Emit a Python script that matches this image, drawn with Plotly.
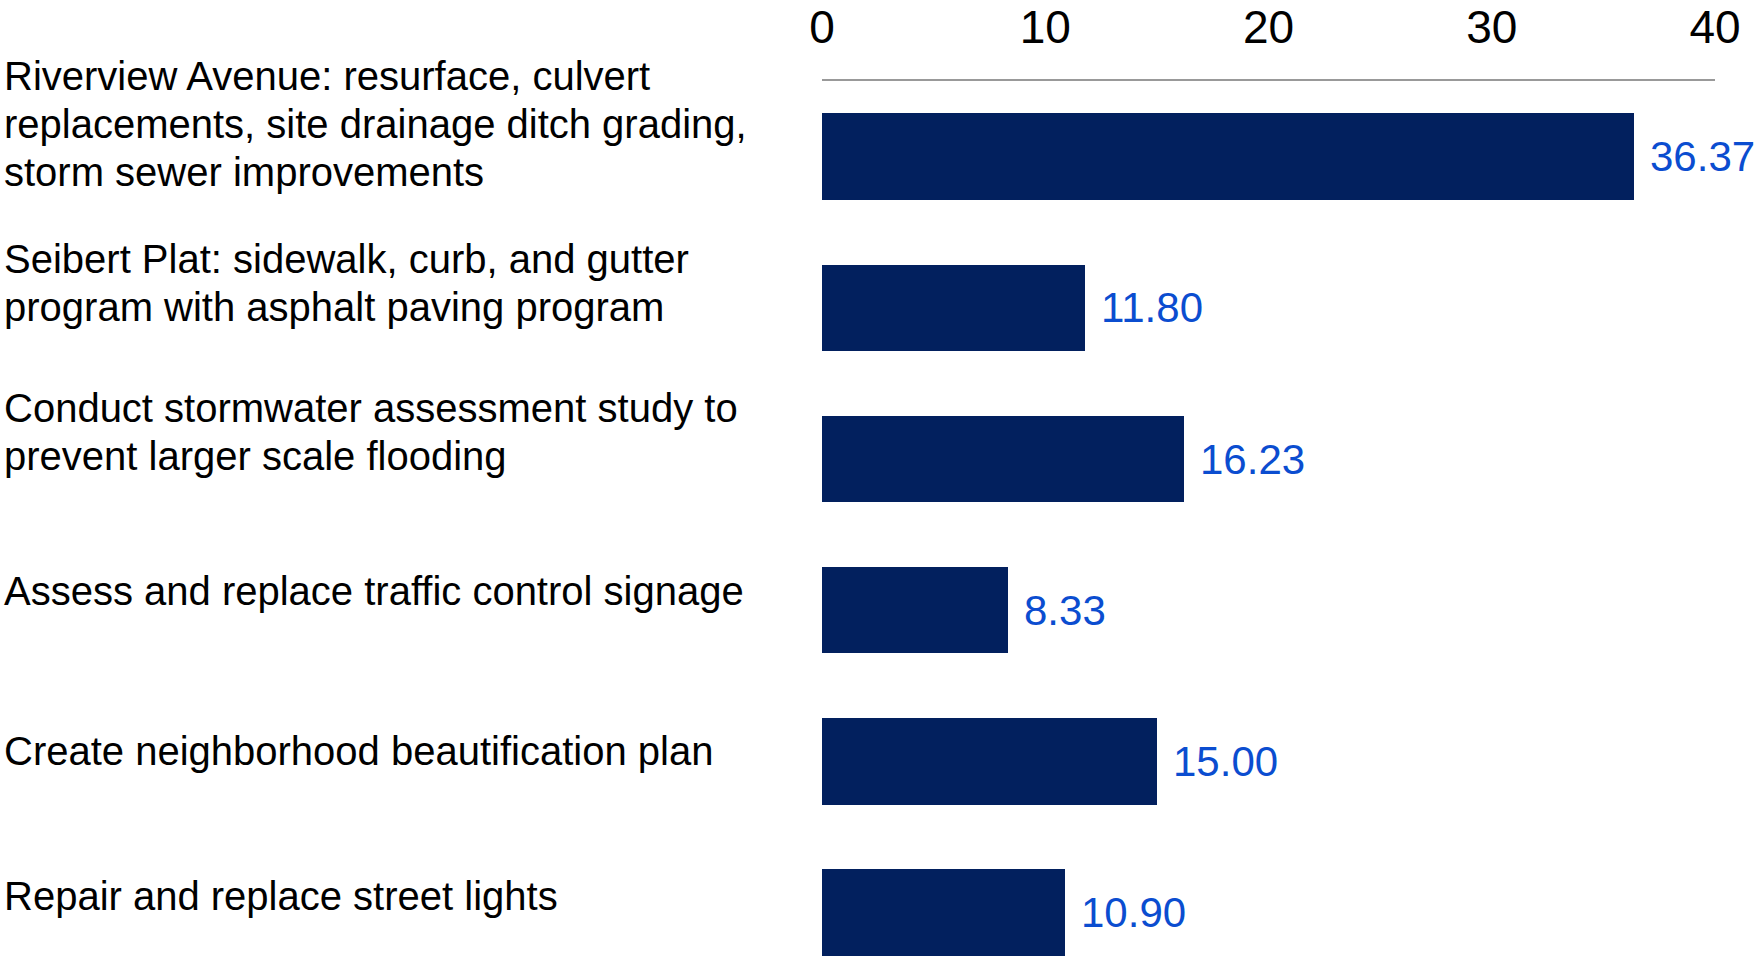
import plotly.graph_objects as go

categories = [
    "Riverview Avenue: resurface, culvert<br>replacements, site drainage ditch grading,<br>storm sewer improvements",
    "Seibert Plat: sidewalk, curb, and gutter<br>program with asphalt paving program",
    "Conduct stormwater assessment study to<br>prevent larger scale flooding",
    "Assess and replace traffic control signage",
    "Create neighborhood beautification plan",
    "Repair and replace street lights",
]
values = [36.37, 11.80, 16.23, 8.33, 15.00, 10.90]
tick_values = [0, 10, 20, 30, 40]
tick_labels = ["0", "10", "20", "30", "40"]

W, H = 1761, 958
LEFT = 822
RIGHT = W - 1715
TOP = 81
BOTTOM = 0
FONT = "Liberation Sans, Arial, sans-serif"
BAR_COLOR = "#02205E"
LABEL_COLOR = "#0B4DD0"

# vertical offset (px, up positive) of each text line from its bar centre
line_shift = [[81, 33, -15], [49, 1], [51, 3], [19], [10], [17]]

idx = list(range(len(categories)))

fig = go.Figure()
fig.add_trace(go.Bar(
    x=values, y=idx, orientation="h",
    marker=dict(color=BAR_COLOR, line=dict(width=0)),
    width=0.571,
    hoverinfo="skip",
))

annotations = []
plot_w = W - LEFT - RIGHT
for i, (c, v) in enumerate(zip(categories, values)):
    annotations.append(dict(
        x=v, y=i, xref="x", yref="y", text=f"{v:.2f}",
        showarrow=False, xanchor="left", yanchor="middle", xshift=14,
        font=dict(family=FONT, size=42, color=LABEL_COLOR),
    ))
    for line, sh in zip(c.split("<br>"), line_shift[i]):
        annotations.append(dict(
            x=(2 - LEFT) / plot_w, y=i, xref="paper", yref="y", text=line,
            showarrow=False, xanchor="left", yanchor="middle", align="left",
            yshift=sh,
            font=dict(family=FONT, size=40, color="#000000"),
        ))

fig.update_layout(
    width=W, height=H,
    margin=dict(l=LEFT, r=RIGHT, t=TOP, b=BOTTOM, pad=0, autoexpand=False),
    paper_bgcolor="white", plot_bgcolor="white",
    showlegend=False,
    bargap=0,
    annotations=annotations,
    xaxis=dict(
        side="top", range=[0, 40], tickvals=tick_values, ticktext=tick_labels,
        showgrid=False, zeroline=False, automargin=False,
        showline=True, linecolor="#999999", linewidth=2,
        ticks="", ticklabelstandoff=18,
        tickfont=dict(family=FONT, size=46, color="#000000"),
        fixedrange=True,
    ),
    yaxis=dict(
        range=[5.3, -0.5], showticklabels=False, showgrid=False, automargin=False,
        zeroline=False, showline=False, fixedrange=True,
    ),
)

fig.write_html(
    "out.html",
    config={"displayModeBar": False},
    post_script="document.body.style.margin='0';document.body.style.overflow='hidden';",
)
